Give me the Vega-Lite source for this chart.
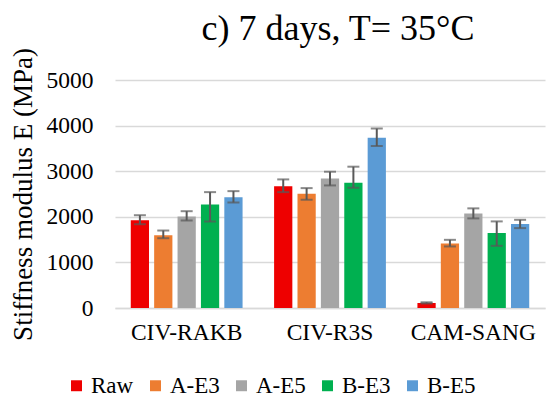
{
  "$schema": "https://vega.github.io/schema/vega-lite/v6.json",
  "autosize": {"type": "none"},
  "width": 430,
  "height": 228,
  "padding": {"left": 115, "top": 80, "right": 3, "bottom": 89},
  "background": "white",
  "config": {
    "font": "Liberation Serif",
    "view": {"stroke": null},
    "axis": {"labelFont": "Liberation Serif", "titleFont": "Liberation Serif"},
    "legend": {"labelFont": "Liberation Serif"}
  },
  "title": {
    "text": "c) 7 days, T= 35°C",
    "fontSize": 36,
    "font": "Liberation Serif",
    "fontWeight": "normal",
    "color": "#000000",
    "offset": -4,
    "dx": 8
  },
  "data": {
    "values": [
      {"site": "CIV-RAKB", "mix": "Raw", "value": 1925, "lo": 1837, "hi": 2035},
      {"site": "CIV-RAKB", "mix": "A-E3", "value": 1596, "lo": 1530, "hi": 1699},
      {"site": "CIV-RAKB", "mix": "A-E5", "value": 2007, "lo": 1919, "hi": 2123},
      {"site": "CIV-RAKB", "mix": "B-E3", "value": 2270, "lo": 1897, "hi": 2541},
      {"site": "CIV-RAKB", "mix": "B-E5", "value": 2431, "lo": 2314, "hi": 2563},
      {"site": "CIV-R3S", "mix": "Raw", "value": 2672, "lo": 2541, "hi": 2820},
      {"site": "CIV-R3S", "mix": "A-E3", "value": 2505, "lo": 2374, "hi": 2629},
      {"site": "CIV-R3S", "mix": "A-E5", "value": 2842, "lo": 2688, "hi": 2989},
      {"site": "CIV-R3S", "mix": "B-E3", "value": 2747, "lo": 2637, "hi": 3099},
      {"site": "CIV-R3S", "mix": "B-E5", "value": 3736, "lo": 3552, "hi": 3934},
      {"site": "CAM-SANG", "mix": "Raw", "value": 110, "lo": 100, "hi": 125},
      {"site": "CAM-SANG", "mix": "A-E3", "value": 1415, "lo": 1350, "hi": 1495},
      {"site": "CAM-SANG", "mix": "A-E5", "value": 2075, "lo": 1965, "hi": 2185},
      {"site": "CAM-SANG", "mix": "B-E3", "value": 1642, "lo": 1363, "hi": 1899},
      {"site": "CAM-SANG", "mix": "B-E5", "value": 1840, "lo": 1752, "hi": 1934}
    ]
  },
  "encoding": {
    "x": {
      "field": "site",
      "type": "nominal",
      "sort": ["CIV-RAKB", "CIV-R3S", "CAM-SANG"],
      "scale": {"paddingInner": 0.22, "paddingOuter": 0.11},
      "axis": {
        "title": null,
        "labelAngle": 0,
        "labelFontSize": 23.5,
        "labelFont": "Liberation Serif",
        "labelColor": "#000000",
        "labelPadding": 12,
        "ticks": false,
        "domainColor": "#D9D9D9",
        "domainWidth": 1.5
      }
    },
    "xOffset": {
      "field": "mix",
      "type": "nominal",
      "sort": ["Raw", "A-E3", "A-E5", "B-E3", "B-E5"],
      "scale": {"paddingInner": 0.22}
    }
  },
  "layer": [
    {
      "mark": {"type": "bar"},
      "encoding": {
        "y": {
          "field": "value",
          "type": "quantitative",
          "scale": {"domain": [0, 5000]},
          "axis": {
            "title": "Stiffness modulus  E (MPa)",
            "titleFont": "Liberation Serif",
            "titleFontSize": 27,
            "titleFontWeight": "normal",
            "titleColor": "#000000",
            "titlePadding": 9,
            "labelFont": "Liberation Serif",
            "labelFontSize": 23.5,
            "labelColor": "#000000",
            "labelPadding": 22,
            "format": "d",
            "values": [0, 1000, 2000, 3000, 4000, 5000],
            "ticks": false,
            "domain": false,
            "gridColor": "#D9D9D9",
            "gridWidth": 1.5
          }
        },
        "color": {
          "field": "mix",
          "type": "nominal",
          "sort": ["Raw", "A-E3", "A-E5", "B-E3", "B-E5"],
          "scale": {
            "domain": ["Raw", "A-E3", "A-E5", "B-E3", "B-E5"],
            "range": ["#EE0000", "#ED7D31", "#A5A5A5", "#00B050", "#5B9BD5"]
          },
          "legend": {
            "title": null,
            "orient": "none",
            "legendX": -50,
            "legendY": 294,
            "direction": "horizontal",
            "symbolType": "square",
            "symbolSize": 120,
            "symbolStrokeWidth": 0,
            "labelFont": "Liberation Serif",
            "labelFontSize": 23,
            "labelColor": "#000000",
            "columnPadding": 10,
            "labelOffset": 3
          }
        }
      }
    },
    {
      "mark": {"type": "rule", "color": "#595959", "strokeWidth": 2},
      "encoding": {
        "y": {"field": "lo", "type": "quantitative"},
        "y2": {"field": "hi"}
      }
    },
    {
      "mark": {"type": "tick", "color": "#595959", "thickness": 2, "size": 12},
      "encoding": {
        "y": {"field": "lo", "type": "quantitative"}
      }
    },
    {
      "mark": {"type": "tick", "color": "#595959", "thickness": 2, "size": 12},
      "encoding": {
        "y": {"field": "hi", "type": "quantitative"}
      }
    }
  ]
}
